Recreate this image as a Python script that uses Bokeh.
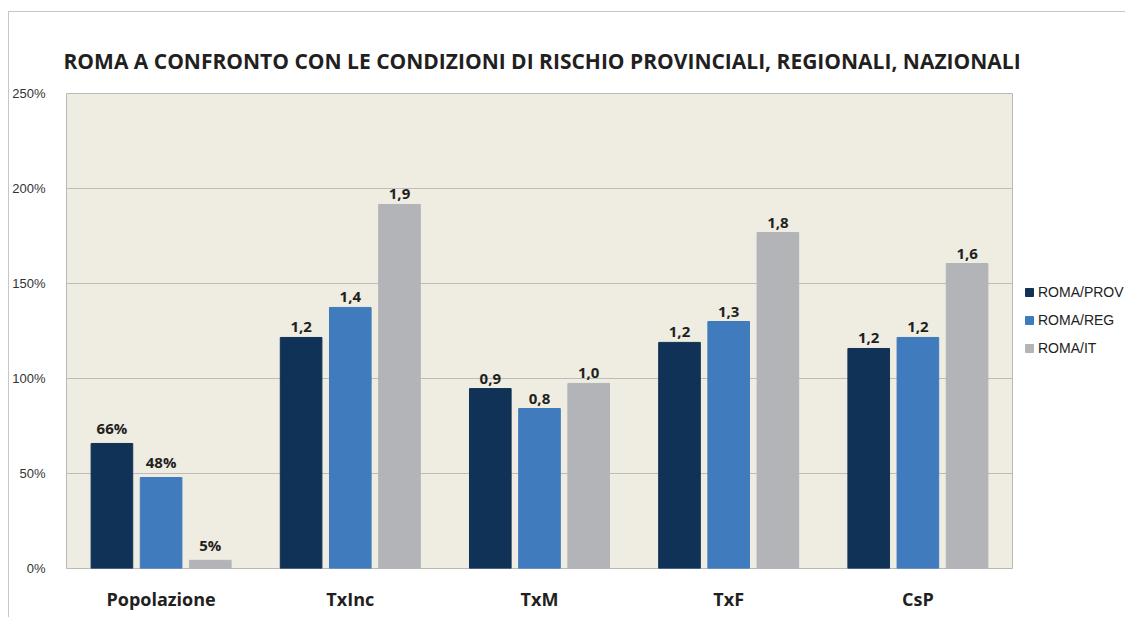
from bokeh.plotting import figure
from bokeh.models import ColumnDataSource, FactorRange, Legend, LegendItem, FixedTicker, Range1d
from bokeh.transform import dodge
from bokeh.core.properties import value
from bokeh.embed import file_html
from bokeh.resources import INLINE

categories = ["Popolazione", "TxInc", "TxM", "TxF", "CsP"]
series_names = ["ROMA/PROV", "ROMA/REG", "ROMA/IT"]
prov = [65.8, 121.6, 94.7, 119.0, 115.8]
reg = [47.9, 137.4, 84.2, 130.0, 121.6]
it = [4.3, 191.6, 97.4, 176.8, 160.5]
prov_labels = ["66%", "1,2", "0,9", "1,2", "1,2"]
reg_labels = ["48%", "1,4", "0,8", "1,3", "1,2"]
it_labels = ["5%", "1,9", "1,0", "1,8", "1,6"]
y_ticks = [0, 50, 100, 150, 200, 250]
y_tick_labels = ["0%", "50%", "100%", "150%", "200%", "250%"]

colors = ["#0f3256", "#407bbd", "#b3b4b8"]
bold_font = "Open Sans"

src = ColumnDataSource(dict(cat=categories, prov=prov, reg=reg, it=it,
                            pl=prov_labels, rl=reg_labels, il=it_labels))

p = figure(x_range=FactorRange(*categories, range_padding=0), y_range=Range1d(0, 250),
           width=1116, height=605, frame_width=946, frame_height=475,
           output_backend="svg", toolbar_location=None,
           min_border_left=56, min_border_right=114, min_border_top=81, min_border_bottom=49)
p.styles = {"margin-left": "8px", "margin-top": "11px",
            "border-top": "1px solid #c6c6c6", "border-left": "1px solid #c6c6c6"}

p.background_fill_color = "#efece2"
p.border_fill_color = "white"
p.outline_line_color = "#b9b9b9"
p.outline_line_width = 1

p.title.text = "ROMA A CONFRONTO CON LE CONDIZIONI DI RISCHIO PROVINCIALI, REGIONALI, NAZIONALI"
p.title.text_font = bold_font
p.title.text_font_style = "bold"
p.title.text_font_size = "21px"
p.title.text_color = "#231f20"
p.title.align = "left"
p.title.offset = -3
p.title.standoff = 37

p.xgrid.grid_line_color = None
p.ygrid.grid_line_color = "#bcbcbc"
p.ygrid.grid_line_width = 1

p.yaxis.ticker = FixedTicker(ticks=y_ticks)
p.yaxis.major_label_overrides = {t: l for t, l in zip(y_ticks, y_tick_labels)}
p.yaxis.axis_line_color = None
p.yaxis.major_tick_line_color = None
p.yaxis.minor_tick_line_color = None
p.yaxis.major_label_standoff = 15
p.yaxis.major_label_text_font = "Liberation Sans"
p.yaxis.major_label_text_font_size = "13px"
p.yaxis.major_label_text_color = "#333333"

p.xaxis.axis_line_color = None
p.xaxis.major_tick_line_color = None
p.xaxis.minor_tick_line_color = None
p.xaxis.major_label_standoff = 12
p.xaxis.major_label_text_font = bold_font
p.xaxis.major_label_text_font_style = "bold"
p.xaxis.major_label_text_font_size = "18px"
p.xaxis.major_label_text_color = "#231f20"

offsets = [-0.26, 0.0, 0.26]
fields = ["prov", "reg", "it"]
label_fields = ["pl", "rl", "il"]
renderers = []
for off, fld, lf, col in zip(offsets, fields, label_fields, colors):
    r = p.vbar(x=dodge("cat", off, range=p.x_range), top=fld, width=0.22, source=src,
               fill_color=col, line_color=col)
    renderers.append(r)
    p.text(x=dodge("cat", off, range=p.x_range), y=fld, text=lf, source=src,
           text_align="center", text_baseline="bottom", y_offset=-5,
           text_font=value(bold_font), text_font_style="bold", text_font_size="15px",
           text_color="#231f20")

items = [LegendItem(label=n, renderers=[r]) for n, r in zip(series_names, renderers)]
legend = Legend(items=items, location=(12, 210), margin=0, padding=0, spacing=8,
                glyph_width=10, glyph_height=10, label_standoff=4, label_height=20,
                label_text_font="Liberation Sans", label_text_font_size="14px",
                label_text_color="#222222", border_line_color=None, background_fill_alpha=0)
p.add_layout(legend, "right")

open("out.html", "w").write(file_html(p, INLINE))
